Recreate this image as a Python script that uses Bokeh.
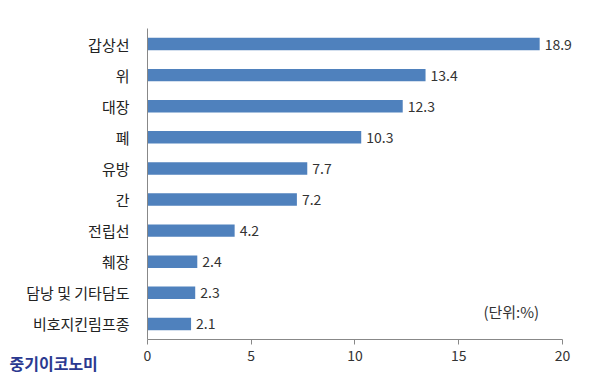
from bokeh.plotting import figure
from bokeh.models import Label, LabelSet, ColumnDataSource, FixedTicker, Range1d
from bokeh.core.properties import value
from bokeh.embed import file_html
from bokeh.resources import INLINE

categories = ["갑상선", "위", "대장", "폐", "유방", "간", "전립선", "췌장", "담낭 및 기타담도", "비호지킨림프종"]
values = [18.9, 13.4, 12.3, 10.3, 7.7, 7.2, 4.2, 2.4, 2.3, 2.1]
x_ticks = [0, 5, 10, 15, 20]
unit_text = "(단위:%)"
logo_text = "중기이코노미"

FONT = "Noto Sans CJK KR"
n = len(categories)
ypos = [n - i - 0.5 for i in range(n)]  # first category on top
src = ColumnDataSource(dict(y=ypos, val=values, lbl=[str(v) for v in values]))

W, H = 592, 376
p = figure(width=W, height=H, x_range=Range1d(-7.084, 21.446), y_range=Range1d(-1.19, 10.9),
           output_backend="svg", toolbar_location=None,
           min_border_left=0, min_border_right=0, min_border_top=0, min_border_bottom=0)
p.hbar(y="y", right="val", left=0, height=0.4, source=src, color="#4F81BD", line_color=None)

p.add_layout(LabelSet(x="val", y="y", text="lbl", source=src, x_offset=5,
                      text_baseline="middle", text_font=value(FONT), text_font_size="14px",
                      text_color="#333333"))

p.outline_line_color = None
p.xgrid.visible = False
p.ygrid.visible = False
p.background_fill_color = "white"
p.border_fill_color = "white"

p.xaxis.fixed_location = 0
p.xaxis.ticker = FixedTicker(ticks=x_ticks)
p.xaxis.bounds = (0, 20)
p.xaxis.axis_line_color = "#888888"
p.xaxis.major_tick_line_color = "#888888"
p.xaxis.major_tick_in = 0
p.xaxis.major_tick_out = 5
p.xaxis.minor_tick_line_color = None
p.xaxis.major_label_text_font = FONT
p.xaxis.major_label_text_font_size = "14px"
p.xaxis.major_label_text_color = "#333333"
p.xaxis.major_label_standoff = 6

p.yaxis.fixed_location = 0
p.yaxis.ticker = FixedTicker(ticks=ypos)
p.yaxis.major_label_overrides = {y: c for y, c in zip(ypos, categories)}
p.yaxis.bounds = (0, n)
p.yaxis.axis_line_color = "#888888"
p.yaxis.major_tick_line_color = None
p.yaxis.minor_tick_line_color = None
p.yaxis.major_label_text_font = FONT
p.yaxis.major_label_text_font_size = "15px"
p.yaxis.major_label_text_color = "#222222"
p.yaxis.major_label_standoff = 12

p.add_layout(Label(x=16.19, y=0.9, text=unit_text, text_font=FONT, text_font_size="15px",
                   text_color="#333333", text_baseline="middle"))
p.add_layout(Label(x=-6.65, y=-0.77, text=logo_text, text_font=FONT, text_font_size="16px",
                   text_font_style="bold", text_color="#2B3990", text_baseline="middle"))

open("out.html", "w").write(file_html(p, INLINE))
